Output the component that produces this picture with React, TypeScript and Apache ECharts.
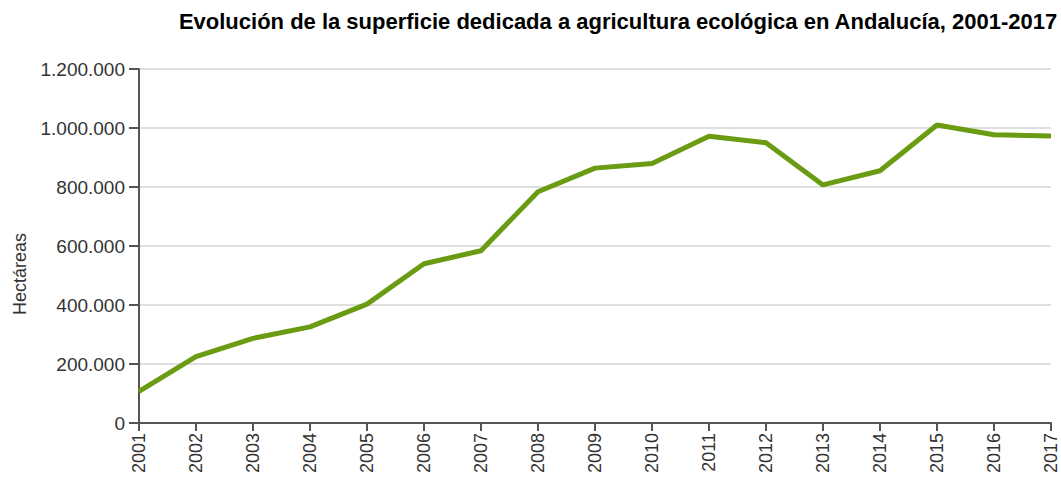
import React, { useEffect, useRef } from "react";
import * as echarts from "echarts";

const years = ["2001","2002","2003","2004","2005","2006","2007","2008","2009","2010","2011","2012","2013","2014","2015","2016","2017"];
const hectareas = [107000, 225000, 287000, 326000, 403000, 540000, 584000, 784000, 864000, 880000, 972000, 950000, 807000, 855000, 1010000, 977000, 973000];
const titleText = "Evolución de la superficie dedicada a agricultura ecológica en Andalucía, 2001-2017";
const yName = "Hectáreas";

const fmt = (v: number) => String(v).replace(/\B(?=(\d{3})+(?!\d))/g, ".");
const FONT = "Liberation Sans, Arial, sans-serif";

export default function App() {
  const ref = useRef<HTMLDivElement>(null);
  useEffect(() => {
    const chart = echarts.init(ref.current!, null, { renderer: "svg" });
    chart.setOption({
      animation: false,
      backgroundColor: "#ffffff",
      textStyle: { fontFamily: FONT },
      title: {
        text: titleText,
        right: 3,
        top: 10,
        padding: 0,
        textStyle: { fontSize: 22, fontWeight: "bold", color: "#000", fontFamily: FONT },
      },
      graphic: [
        {
          type: "text",
          x: 20,
          y: 274,
          rotation: Math.PI / 2,
          style: { text: yName, fontSize: 18, fill: "#333", align: "center", verticalAlign: "middle", fontFamily: FONT },
        },
      ],
      grid: { left: 139, right: 10, top: 69, bottom: 61, containLabel: false },
      xAxis: {
        type: "category",
        data: years,
        boundaryGap: false,
        axisLine: { lineStyle: { color: "#555", width: 2 } },
        axisTick: { show: true, length: 8, lineStyle: { color: "#555", width: 2 }, alignWithLabel: true },
        axisLabel: { rotate: 90, fontSize: 18, color: "#333", margin: 10, interval: 0 },
        splitLine: { show: false },
      },
      yAxis: {
        type: "value",
        min: 0,
        max: 1200000,
        interval: 200000,
        axisLine: { show: true, lineStyle: { color: "#555", width: 2 } },
        axisTick: { show: true, length: 10, lineStyle: { color: "#555", width: 2 } },
        axisLabel: { fontSize: 19, color: "#333", margin: 14, formatter: (v: number) => fmt(v) },
        splitLine: { show: true, lineStyle: { color: "#d4d4d4", width: 1.5 } },
      },
      series: [
        {
          type: "line",
          data: hectareas,
          symbol: "none",
          lineStyle: { color: "#6a9b12", width: 5 },
          itemStyle: { color: "#6a9b12" },
        },
      ],
    });
    return () => chart.dispose();
  }, []);
  return <div ref={ref} style={{ width: 1061, height: 484, position: "absolute", left: 0, top: 0 }} />;
}
